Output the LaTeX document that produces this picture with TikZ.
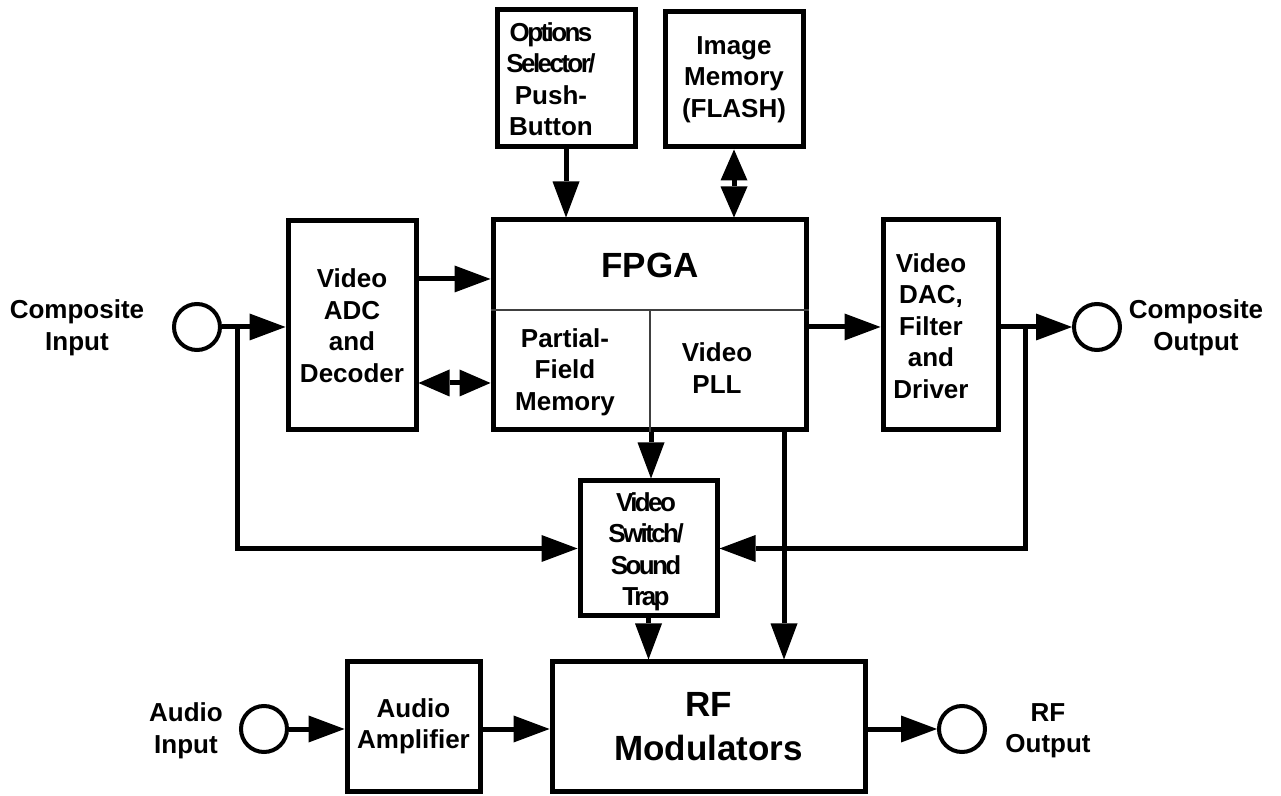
\documentclass[tikz,border=0pt]{standalone}
\usepackage{fontspec}
\setmainfont{Liberation Sans}
\newfontfamily\tightfont{Liberation Sans}[LetterSpace=-10]
\usetikzlibrary{arrows.meta}
\begin{document}
\begin{tikzpicture}[x=0.5pt,y=-0.5pt,
  txt/.style={font=\fontsize{13pt}{15.75pt}\selectfont\bfseries, align=center, inner sep=0pt},
  big/.style={font=\fontsize{17.5pt}{22pt}\selectfont\bfseries, align=center, inner sep=0pt},
  box/.style={draw, line width=2.5pt, txt},
  port/.style={draw, circle, line width=2pt, minimum size=23pt, inner sep=0pt},
  conn/.style={line width=2.5pt, -{Triangle[length=18pt,width=13.5pt,line width=0pt]}},
  dconn/.style={line width=2.5pt, {Triangle[length=15.5pt,width=13.5pt,line width=0pt]}-{Triangle[length=15.5pt,width=13.5pt,line width=0pt]}},
  inner/.style={line width=0.8pt, black!75}
]
\useasboundingbox (0,0) rectangle (1281,796);

% boxes
\node[box, minimum width=69pt, minimum height=68.5pt] (opt) at (566,78.5) {};
\node[txt] (optl) at (551,79) {{\tightfont Options}\\{\tightfont Selector/}\\Push-\\Button};
\node[box, minimum width=69pt, minimum height=67.5pt] (mem) at (734,79.5) {Image\\Memory\\(FLASH)};
\node[box, minimum width=156.5pt, minimum height=105pt] (fpga) at (649.5,325) {};
\node[box, minimum width=64pt, minimum height=104.5pt] (adc) at (352,325.5) {Video\\ADC\\and\\Decoder};
\node[box, minimum width=57.5pt, minimum height=105pt] (dac) at (940.5,325) {};
\node[txt] (dacl) at (931,326) {Video\\DAC,\\Filter\\and\\Driver};
\node[box, minimum width=68.5pt, minimum height=67.5pt] (sw) at (648.5,548.5) {};
\node[txt, font=\fontsize{13pt}{15.75pt}\selectfont\bfseries\tightfont] (swl) at (646,552) {Video\\Switch/\\Sound\\Trap};
\node[box, minimum width=66.5pt, minimum height=64.5pt] (amp) at (413.5,726.5) {Audio\\Amplifier};
\node[box, big, minimum width=156.5pt, minimum height=64.5pt] (rf) at (708.5,726.5) {RF\\Modulators};

% FPGA contents
\coordinate (hl) at (0,310);
\coordinate (dv) at (650,310);
\draw[inner] (fpga.west |- hl) -- (fpga.east |- hl);
\draw[inner] (dv) -- (dv |- fpga.south);
\node[big] (fpgat) at (650,265) {FPGA};
\node[txt] (pfm) at (565,372) {Partial-\\Field\\Memory};
\node[txt] (pll) at (717,368) {Video\\PLL};

% ports
\node[port] (cin) at (197,327) {};
\node[port] (cout) at (1097,327) {};
\node[port] (ain) at (264,729) {};
\node[port] (rout) at (962,729) {};
\node[txt] (cinl) at (77,328) {Composite\\Input};
\node[txt] (coutl) at (1196,328) {Composite\\Output};
\node[txt] (ainl) at (186,731) {Audio\\Input};
\node[txt] (routl) at (1048,731) {RF\\Output};

% helper coordinates
\coordinate (yA) at (0,279);
\coordinate (yB) at (0,383);
\coordinate (yC) at (0,327);
\coordinate (jL) at (237,327);
\coordinate (jR) at (1025,327);
\coordinate (xS) at (651,0);
\coordinate (xP) at (784,0);

% connectors
\draw[conn] (opt.south) -- (opt.south |- fpga.north);
\draw[dconn] (mem.south) -- (mem.south |- fpga.north);
\draw[conn] (cin.east) -- (adc.west |- cin.east);
\draw[conn] (adc.east |- yA) -- (fpga.west |- yA);
\draw[dconn] (adc.east |- yB) -- (fpga.west |- yB);
\draw[conn] (fpga.east |- yC) -- (dac.west |- yC);
\draw[conn] (dac.east |- yC) -- (cout.west);
\draw[conn] (jL) |- (sw.west);
\draw[conn] (jR) |- (sw.east);
\draw[conn] (xS |- fpga.south) -- (xS |- sw.north);
\draw[conn] (xP |- fpga.south) -- (xP |- rf.north);
\draw[conn] (sw.south) -- (sw.south |- rf.north);
\draw[conn] (ain.east) -- (amp.west |- ain.east);
\draw[conn] (amp.east |- ain.east) -- (rf.west |- ain.east);
\draw[conn] (rf.east |- rout.west) -- (rout.west);
\end{tikzpicture}
\end{document}
